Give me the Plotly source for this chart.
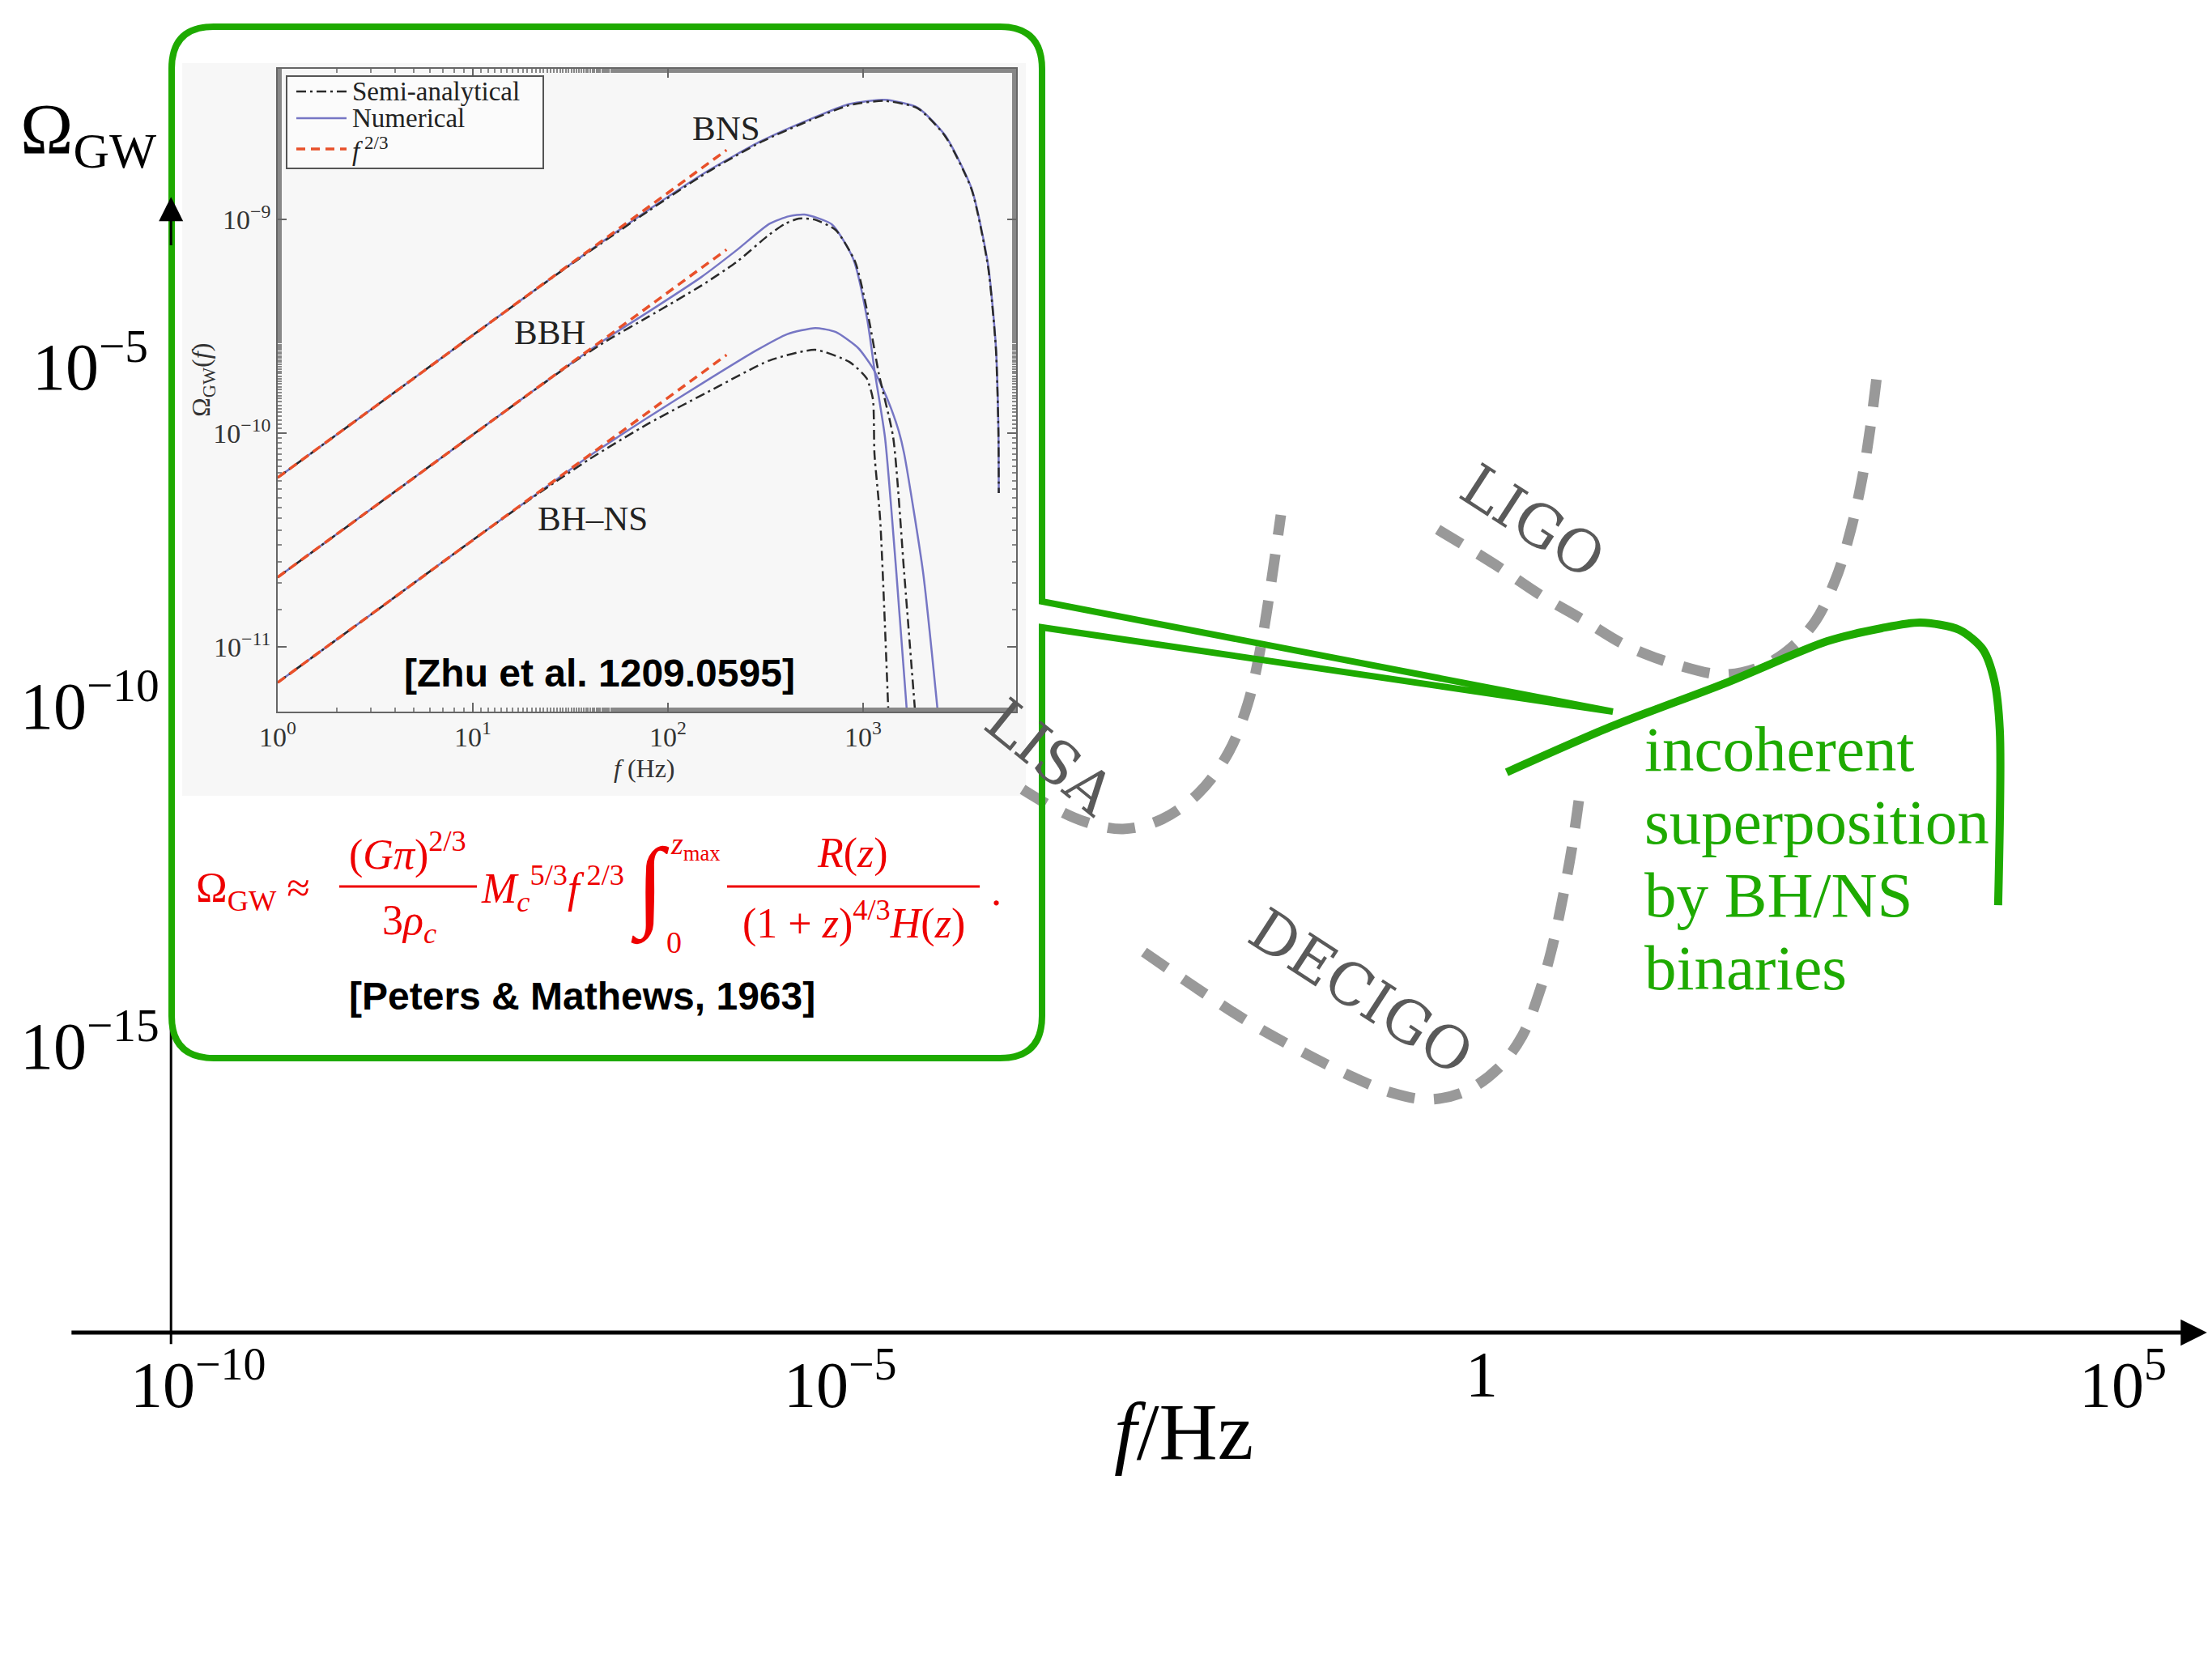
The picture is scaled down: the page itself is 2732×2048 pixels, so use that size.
import plotly.graph_objects as go

W, H = 2732, 2048

# ---------------- main panel (values are log10 f [Hz], log10 Omega_GW) ----------------
LISA_LOGF = [-3.577, -3.344, -3.091, -2.795, -2.492, -2.208, -1.974, -1.823, -1.722, -1.640, -1.564]
LISA_LOGO = [-11.293, -11.555, -11.770, -11.877, -11.734, -11.353, -10.757, -10.042, -9.207, -8.254, -7.253]

LIGO_LOGF = [-0.341, 0.102, 0.461, 0.796, 1.124, 1.522, 1.913, 2.273, 2.576, 2.759, 2.879, 2.967, 3.030, 3.093]
LIGO_LOGO = [-7.467, -7.980, -8.433, -8.802, -9.172, -9.458, -9.601, -9.398, -8.886, -8.206, -7.467, -6.716, -5.977, -5.023]

DECIGO_LOGF = [-2.631, -2.208, -1.798, -1.388, -1.009, -0.695, -0.410, -0.126, 0.127, 0.316, 0.442, 0.543, 0.632, 0.707, 0.770]
DECIGO_LOGO = [-13.689, -14.237, -14.738, -15.167, -15.524, -15.763, -15.858, -15.739, -15.405, -14.928, -14.332, -13.677, -12.902, -12.127, -11.293]

BINARY_LOGF = [0.196, 1.004, 1.913, 2.695, 3.118, 3.421, 3.724, 3.907, 3.996, 4.040, 4.027]
BINARY_LOGO = [-11.043, -10.375, -9.720, -9.112, -8.921, -8.838, -8.945, -9.231, -9.684, -10.423, -13.0]

MAIN_XTICKS = [-10, -5, 0, 5]
MAIN_XTICKTEXT = ["10<sup>\u221210</sup>", "10<sup>\u22125</sup>", "1", "10<sup>5</sup>"]
MAIN_YTICKS = [-5, -10, -15]
MAIN_YTICKTEXT = ["10<sup>\u22125</sup>", "10<sup>\u221210</sup>", "10<sup>\u221215</sup>"]

# ---------------- inset panel (log10 f [Hz], log10 Omega_GW) ----------------
BNS_NUM_LOGF = [0, 0.5, 1.0, 1.5, 1.9, 2.2, 2.48, 2.73, 2.93, 3.11, 3.28, 3.42, 3.556, 3.64, 3.68, 3.693, 3.695]
BNS_NUM_LOGO = [-10.208, -9.875, -9.541, -9.21, -8.955, -8.775, -8.632, -8.53, -8.46, -8.44, -8.477, -8.606, -8.856, -9.21, -9.59, -9.97, -10.28]
BNS_SEMI_LOGF = [0, 0.5, 1.0, 1.5, 1.9, 2.2, 2.48, 2.73, 2.93, 3.11, 3.28, 3.42, 3.556, 3.64, 3.68, 3.693, 3.695]
BNS_SEMI_LOGO = [-10.208, -9.875, -9.541, -9.212, -8.96, -8.78, -8.636, -8.535, -8.465, -8.445, -8.48, -8.61, -8.86, -9.22, -9.60, -9.98, -10.28]

BBH_NUM_LOGF = [0, 0.5, 1.0, 1.5, 1.7, 1.9, 2.17, 2.35, 2.52, 2.62, 2.70, 2.84, 2.95, 3.02, 3.06, 3.112, 3.17, 3.224]
BBH_NUM_LOGO = [-10.674, -10.341, -10.007, -9.676, -9.548, -9.432, -9.27, -9.145, -9.02, -8.985, -8.977, -9.023, -9.186, -9.462, -9.716, -10.02, -10.65, -11.30]
BBH_SEMI_LOGF = [0, 0.5, 1.0, 1.5, 1.7, 1.9, 2.17, 2.35, 2.52, 2.60, 2.67, 2.75, 2.86, 2.96, 3.03, 3.08, 3.154, 3.21, 3.266]
BBH_SEMI_LOGO = [-10.674, -10.341, -10.007, -9.678, -9.56, -9.455, -9.31, -9.20, -9.07, -9.02, -8.996, -9.0, -9.05, -9.2, -9.47, -9.72, -10.02, -10.65, -11.30]

BHNS_NUM_LOGF = [0, 0.5, 1.0, 1.3, 1.6, 1.9, 2.17, 2.45, 2.61, 2.755, 2.86, 2.975, 3.045, 3.10, 3.141, 3.183, 3.21, 3.307, 3.382]
BHNS_NUM_LOGO = [-11.167, -10.834, -10.5, -10.302, -10.105, -9.925, -9.77, -9.614, -9.537, -9.508, -9.527, -9.602, -9.689, -9.79, -9.879, -9.992, -10.095, -10.65, -11.30]
BHNS_SEMI_LOGF = [0, 0.5, 1.0, 1.3, 1.6, 1.9, 2.24, 2.52, 2.755, 2.93, 3.017, 3.05, 3.058, 3.087, 3.129]
BHNS_SEMI_LOGO = [-11.167, -10.834, -10.5, -10.305, -10.12, -9.955, -9.79, -9.66, -9.61, -9.667, -9.742, -9.84, -10.095, -10.40, -11.30]

# f^(2/3) power-law guides: (start, end) in log10 units
GUIDE_LOGF = [0.0, 2.3]
BNS_GUIDE_LOGO = [-10.208, -8.675]
BBH_GUIDE_LOGO = [-10.674, -9.141]
BHNS_GUIDE_LOGO = [-11.167, -9.634]

INSET_XTICKS = [1, 10, 100, 1000]
INSET_XTICKTEXT = ["10<sup>0</sup>", "10<sup>1</sup>", "10<sup>2</sup>", "10<sup>3</sup>"]
INSET_YTICKS = [1e-11, 1e-10, 1e-9]
INSET_YTICKTEXT = ["10<sup>\u221211</sup>", "10<sup>\u221210</sup>", "10<sup>\u22129</sup>"]

LEGEND_LABELS = ["Semi-analytical", "Numerical", "<i>f</i><sup> 2/3</sup>"]

GREEN = "#1eaa00"
GRAY_DASH = "#999999"
LABEL_GRAY = "#5a5a5a"
RED = "#ee0000"
SERIF = "Liberation Serif"
SANS = "Liberation Sans"

NUM_STYLE = dict(color="#7676c4", width=2.5)
SEMI_STYLE = dict(color="#2a2a2a", width=2.5, dash="12px,5px,3px,5px")
GUIDE_STYLE = dict(color="#e8502a", width=3.5, dash="11px,7px")


def pw(x):
    return x / W


def ph(y):
    return 1 - y / H


def lin(vals):
    return [10 ** v for v in vals]


fig = go.Figure()


# ---- main panel curves ----
def main_curve(lf, lo, color, width, dash="solid", smoothing=1.0):
    fig.add_trace(go.Scatter(
        x=lin(lf), y=lin(lo), mode="lines", xaxis="x", yaxis="y",
        line=dict(color=color, width=width, dash=dash, shape="spline", smoothing=smoothing),
        showlegend=False, hoverinfo="skip"))


main_curve(LISA_LOGF, LISA_LOGO, GRAY_DASH, 13, "34px,24px")
main_curve(LIGO_LOGF, LIGO_LOGO, GRAY_DASH, 13, "34px,24px")
main_curve(DECIGO_LOGF, DECIGO_LOGO, GRAY_DASH, 13, "34px,24px")
main_curve(BINARY_LOGF, BINARY_LOGO, GREEN, 10, "solid", 0.8)

# vertical axis line of the main panel
YAXIS_LOGF = -10.215
fig.add_trace(go.Scatter(
    x=lin([YAXIS_LOGF, YAXIS_LOGF]), y=lin([-19.46, -2.9]), mode="lines",
    xaxis="x", yaxis="y", line=dict(color="black", width=3),
    showlegend=False, hoverinfo="skip"))


# ---- inset curves ----
def inset_curve(lf, lo, style, smooth=True):
    ln = dict(style)
    if smooth:
        ln.update(shape="spline", smoothing=0.6)
    fig.add_trace(go.Scatter(
        x=lin(lf), y=lin(lo), mode="lines", xaxis="x2", yaxis="y2",
        line=ln, showlegend=False, hoverinfo="skip"))


inset_curve(BNS_NUM_LOGF, BNS_NUM_LOGO, NUM_STYLE)
inset_curve(BBH_NUM_LOGF, BBH_NUM_LOGO, NUM_STYLE)
inset_curve(BHNS_NUM_LOGF, BHNS_NUM_LOGO, NUM_STYLE)
inset_curve(BNS_SEMI_LOGF, BNS_SEMI_LOGO, SEMI_STYLE)
inset_curve(BBH_SEMI_LOGF, BBH_SEMI_LOGO, SEMI_STYLE)
inset_curve(BHNS_SEMI_LOGF, BHNS_SEMI_LOGO, SEMI_STYLE)
inset_curve(GUIDE_LOGF, BNS_GUIDE_LOGO, GUIDE_STYLE, False)
inset_curve(GUIDE_LOGF, BBH_GUIDE_LOGO, GUIDE_STYLE, False)
inset_curve(GUIDE_LOGF, BHNS_GUIDE_LOGO, GUIDE_STYLE, False)

# ---- shapes ----
shapes = []
# light-grey panel behind the inset plot
shapes.append(dict(type="rect", xref="paper", yref="paper",
                   x0=pw(225), x1=pw(1267), y0=ph(983), y1=ph(78),
                   fillcolor="#f7f7f7", line=dict(width=0), layer="below"))

# inset legend box with its line samples
LEGEND_ROWS = [113, 146, 184]
shapes.append(dict(type="rect", xref="paper", yref="paper",
                   x0=pw(354), x1=pw(671), y0=ph(208), y1=ph(94),
                   fillcolor="#fbfbfb", line=dict(color="#555555", width=2), layer="above"))
for row_y, style in zip(LEGEND_ROWS, [SEMI_STYLE, NUM_STYLE, GUIDE_STYLE]):
    ln = dict(color=style["color"], width=style["width"])
    if "dash" in style:
        ln["dash"] = style["dash"]
    shapes.append(dict(type="line", xref="paper", yref="paper",
                       x0=pw(366), x1=pw(428), y0=ph(row_y), y1=ph(row_y),
                       line=ln, layer="above"))

# rounded call-out box pointing at the binary curve
BOX_L, BOX_T, BOX_R, BOX_B, RAD = 212, 33, 1287, 1307, 52
TIP = (1992, 879)
NOTCH_TOP, NOTCH_BOT = 743, 775


def P(x, y):
    return f"{pw(x):.5f},{ph(y):.5f}"


box_path = (
    f"M {P(BOX_L + RAD, BOX_T)} L {P(BOX_R - RAD, BOX_T)} Q {P(BOX_R, BOX_T)} {P(BOX_R, BOX_T + RAD)} "
    f"L {P(BOX_R, NOTCH_TOP)} L {P(*TIP)} L {P(BOX_R, NOTCH_BOT)} "
    f"L {P(BOX_R, BOX_B - RAD)} Q {P(BOX_R, BOX_B)} {P(BOX_R - RAD, BOX_B)} "
    f"L {P(BOX_L + RAD, BOX_B)} Q {P(BOX_L, BOX_B)} {P(BOX_L, BOX_B - RAD)} "
    f"L {P(BOX_L, BOX_T + RAD)} Q {P(BOX_L, BOX_T)} {P(BOX_L + RAD, BOX_T)} Z"
)
shapes.append(dict(type="path", xref="paper", yref="paper", path=box_path,
                   line=dict(color=GREEN, width=8), fillcolor="rgba(0,0,0,0)", layer="above"))

# fraction bars of the formula
for x0, x1 in [(419, 589), (898, 1210)]:
    shapes.append(dict(type="line", xref="paper", yref="paper",
                       x0=pw(x0), x1=pw(x1), y0=ph(1095), y1=ph(1095),
                       line=dict(color=RED, width=3), layer="above"))

# ---- annotations ----
ann = []


def text(x, y, s, size, color="black", family=SERIF, xanchor="center", yanchor="middle",
         angle=0, xref="paper", yref="paper", align="center"):
    ann.append(dict(x=x, y=y, xref=xref, yref=yref, text=s, showarrow=False,
                    font=dict(family=family, size=size, color=color),
                    xanchor=xanchor, yanchor=yanchor, textangle=angle, align=align))


# axis arrows of the main panel
ann.append(dict(x=5.655, y=-19.29, ax=-11.0, ay=-19.29, xref="x", yref="y", axref="x", ayref="y",
                text="", showarrow=True, arrowhead=2, arrowsize=1.3, arrowwidth=5,
                arrowcolor="black", standoff=0, startstandoff=0))
ann.append(dict(x=YAXIS_LOGF, y=-2.57, ax=YAXIS_LOGF, ay=-3.3, xref="x", yref="y", axref="x", ayref="y",
                text="", showarrow=True, arrowhead=2, arrowsize=2.0, arrowwidth=3,
                arrowcolor="black", standoff=0, startstandoff=0))

# main tick labels
for v, t in zip(MAIN_XTICKS, MAIN_XTICKTEXT):
    text(v, ph(1652), t, 80, xref="x", yanchor="top")
for v, t in zip(MAIN_YTICKS, MAIN_YTICKTEXT):
    text(pw(111), v, t, 82, yref="y")

# main axis titles
text(pw(109), ph(165), "\u03a9<sub>GW</sub>", 88)
text(pw(1462), ph(1768), "<i>f</i>/Hz", 100)

# detector labels
text(pw(1297), ph(935), "LISA", 72, LABEL_GRAY, "DejaVu Serif", angle=39)
text(pw(1893), ph(644), "LIGO", 72, LABEL_GRAY, "DejaVu Serif", angle=33)
text(pw(1681), ph(1225), "DECIGO", 72, LABEL_GRAY, "DejaVu Serif", angle=33)

# description of the green curve, one line per annotation
for line_text, line_y in zip(["incoherent", "superposition", "by BH/NS", "binaries"],
                             [925, 1015, 1105, 1195]):
    text(pw(2029), ph(line_y), line_text, 79, GREEN, xanchor="left")

# inset labels
text(2.299, -8.572, "BNS", 43, "#222222", xref="x2", yref="y2")
text(1.394, -9.530, "BBH", 43, "#222222", xref="x2", yref="y2")
text(1.614, -10.40, "BH\u2013NS", 43, "#222222", xref="x2", yref="y2")
text(pw(250), ph(470), "\u03a9<sub>GW</sub>(<i>f</i>)", 32, "#333333", angle=-90)
text(pw(796), ph(949), "<i>f</i> (Hz)", 32, "#333333")

# inset legend texts
for row_y, label in zip(LEGEND_ROWS, LEGEND_LABELS):
    text(pw(433), ph(row_y), label, 33, "#222222", xanchor="left")

# references
text(pw(740), ph(831), "<b>[Zhu et al. 1209.0595]</b>", 48, "black", SANS)
text(pw(719), ph(1230), "<b>[Peters &amp; Mathews, 1963]</b>", 48, "black", SANS)

# formula for the stochastic background
text(pw(240), ph(1100), "\u03a9<sub>GW</sub> \u2248", 52, RED, xanchor="left")
text(pw(503), ph(1052), "(<i>G\u03c0</i>)<sup>2/3</sup>", 52, RED)
text(pw(505), ph(1140), "3<i>\u03c1</i><sub><i>c</i></sub>", 52, RED)
text(pw(592), ph(1097), "<i>M</i><sub><i>c</i></sub><sup>5/3</sup><i>f</i><sup> 2/3</sup>", 52, RED, xanchor="left")
text(pw(803), ph(1095), "\u222b", 124, RED)
text(pw(826), ph(1045), "<i>z</i><sub>max</sub>", 38, RED, xanchor="left")
text(pw(832), ph(1164), "0", 38, RED)
text(pw(1053), ph(1054), "<i>R</i>(<i>z</i>)", 52, RED)
text(pw(1054), ph(1137), "(1 + <i>z</i>)<sup>4/3</sup><i>H</i>(<i>z</i>)", 52, RED)
text(pw(1222), ph(1100), ".", 52, RED, xanchor="left")

inset_axis = dict(
    type="log", showline=True, mirror="ticks", linecolor="#666666", linewidth=1.5,
    ticks="inside", ticklen=11, tickwidth=1.5, tickcolor="#666666",
    minor=dict(ticks="inside", ticklen=5, tickcolor="#888888", showgrid=False),
    showgrid=False, zeroline=False, automargin=False,
    tickfont=dict(family=SERIF, size=34, color="#333333"),
)

fig.update_layout(
    width=W, height=H, margin=dict(l=0, r=0, t=0, b=0, autoexpand=False),
    paper_bgcolor="white", plot_bgcolor="rgba(0,0,0,0)", showlegend=False,
    xaxis=dict(type="log", range=[-11.548, 5.694], domain=[0, 1], visible=False,
               fixedrange=True, automargin=False),
    yaxis=dict(type="log", range=[-24.082, 0.328], domain=[0, 1], visible=False,
               fixedrange=True, automargin=False),
    xaxis2=dict(inset_axis, domain=[pw(343), pw(1255)], range=[0, 3.784], anchor="y2",
                tickvals=INSET_XTICKS, ticktext=INSET_XTICKTEXT),
    yaxis2=dict(inset_axis, domain=[ph(879), ph(85)], range=[-11.303, -8.295], anchor="x2",
                tickvals=INSET_YTICKS, ticktext=INSET_YTICKTEXT),
    shapes=shapes,
    annotations=ann,
)

fig.write_html("out.html")
